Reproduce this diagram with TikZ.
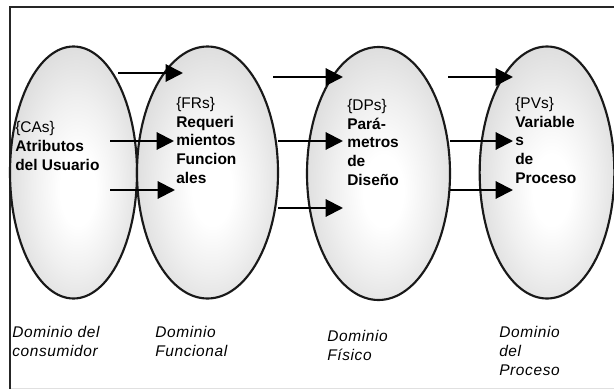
\documentclass[tikz,border=0pt]{standalone}
\usepackage{fontspec}
\setmainfont{Liberation Sans}
\usetikzlibrary{shapes.geometric,arrows.meta}
\pgfdeclareradialshading{ellshade}{\pgfpoint{2bp}{-4bp}}{color(0bp)=(white); color(7bp)=(white); color(17bp)=(black!6); color(27bp)=(black!13); color(50bp)=(black!14)}
\tikzset{
  dom/.style={ellipse, draw=black!90, line width=1.6pt, shading=ellshade, inner sep=0pt},
  flow/.style={line width=1.5pt, -{Triangle[length=13pt,width=13pt]}},
  lbl/.style={anchor=north west, inner sep=0pt, align=left, font=\fontsize{11.6}{14}\selectfont\bfseries},
  domlabel/.style={anchor=north west, inner sep=0pt, align=left, font=\fontsize{11.6}{14}\selectfont\itshape\addfontfeature{LetterSpace=4}},
}
\begin{document}
\begin{tikzpicture}[x=0.75pt,y=-0.75pt]
\useasboundingbox (0,0) rectangle (614,389);
% frame
\draw[black!85, line width=1.5pt] (614,7) -- (10,7) -- (10,389);
\draw[black!12, line width=0.6pt] (11,388) -- (614,388);
% domains
\node[dom, minimum width=95.25pt, minimum height=189pt] (e1) at (73.5,172.5) {};
\node[dom, minimum width=105.75pt, minimum height=189pt] (e2) at (207.5,172.5) {};
\node[dom, minimum width=107.25pt, minimum height=189.75pt] (e3) at (378.5,173.5) {};
\node[dom, minimum width=101pt, minimum height=189pt] (e4) at (547,172.5) {};
% arrow end points
\coordinate (a1s) at (118,73);  \coordinate (a1e) at (183,73);
\coordinate (a2s) at (273,77);  \coordinate (a2e) at (343,77);
\coordinate (a3s) at (448,77);  \coordinate (a3e) at (513,77);
\coordinate (b1s) at (110,141); \coordinate (b1e) at (174,141);
\coordinate (b2s) at (278,141); \coordinate (b2e) at (343,141);
\coordinate (b3s) at (450,141); \coordinate (b3e) at (513,141);
\coordinate (c1s) at (110,190); \coordinate (c1e) at (175,190);
\coordinate (c2s) at (278,208); \coordinate (c2e) at (343,208);
\coordinate (c3s) at (450,190); \coordinate (c3e) at (513,190);
\foreach \r in {a,b,c} \foreach \i in {1,2,3} \draw[flow] (\r\i s) -- (\r\i e);
% texts
\node[lbl] (t1) at (15,121.5) {\mdseries\{CAs\}\\Atributos\\del Usuario};
\node[lbl] (t2) at (176,97) {\mdseries\{FRs\}\\Requeri\\mientos\\Funcion\\ales};
\node[lbl] (t3) at (347,99) {\mdseries\{DPs\}\\Pará-\\metros\\de\\Diseño};
\node[lbl] (t4) at (515,97) {\mdseries\{PVs\}\\Variable\\s\\de\\Proceso};
\node[domlabel] (d1) at (12,326.5) {Dominio del\\consumidor};
\node[domlabel] (d2) at (155,326.5) {Dominio\\Funcional};
\node[domlabel] (d3) at (327,330.5) {Dominio\\Físico};
\node[domlabel] (d4) at (499,326.5) {Dominio\\del\\Proceso};
\end{tikzpicture}
\end{document}
